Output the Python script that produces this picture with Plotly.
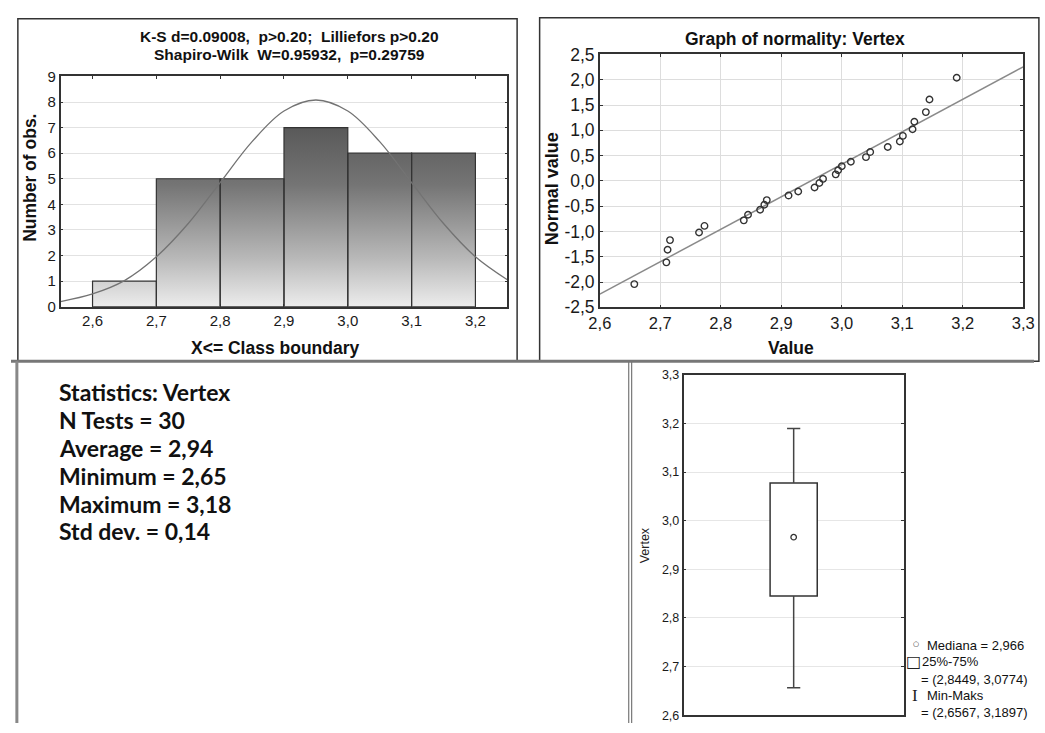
import plotly.graph_objects as go

W, H = 1045, 733

# ---------------- Histogram data ----------------
bin_edges = [2.6, 2.7, 2.8, 2.9, 3.0, 3.1, 3.2]
counts = [1, 5, 5, 7, 6, 6]
curve_x = [2.55, 2.60, 2.65, 2.70, 2.75, 2.80, 2.85, 2.90, 2.95, 3.00, 3.05, 3.10, 3.15, 3.20, 3.25]
curve_y = [0.20, 0.50, 1.02, 1.95, 3.25, 4.85, 6.45, 7.65, 8.08, 7.65, 6.45, 4.85, 3.25, 1.95, 1.05]
hist_xticks = [2.6, 2.7, 2.8, 2.9, 3.0, 3.1, 3.2]
hist_xlabels = ["2,6", "2,7", "2,8", "2,9", "3,0", "3,1", "3,2"]
hist_yticks = [0, 1, 2, 3, 4, 5, 6, 7, 8, 9]
hist_title = ["K-S d=0.09008,  p>0.20;  Lilliefors p>0.20",
              "Shapiro-Wilk  W=0.95932,  p=0.29759"]

# ---------------- Normal probability plot data ----------------
obs_values = [2.657, 2.710, 2.712, 2.716, 2.764, 2.773, 2.838, 2.845, 2.865, 2.872,
              2.876, 2.912, 2.928, 2.955, 2.963, 2.969, 2.990, 2.994, 3.000, 3.015,
              3.040, 3.047, 3.076, 3.096, 3.101, 3.117, 3.120, 3.139, 3.145, 3.190]
normal_values = [-2.04, -1.61, -1.36, -1.17, -1.02, -0.89, -0.78, -0.67, -0.57, -0.47,
                 -0.38, -0.29, -0.21, -0.13, -0.04, 0.04, 0.13, 0.21, 0.29, 0.38,
                 0.47, 0.57, 0.67, 0.78, 0.89, 1.02, 1.17, 1.36, 1.61, 2.04]
fit_x = [2.6, 3.3]
fit_y = [-2.24, 2.255]
norm_xticks = [2.6, 2.7, 2.8, 2.9, 3.0, 3.1, 3.2, 3.3]
norm_xlabels = ["2,6", "2,7", "2,8", "2,9", "3,0", "3,1", "3,2", "3,3"]
norm_yticks = [-2.5, -2.0, -1.5, -1.0, -0.5, 0.0, 0.5, 1.0, 1.5, 2.0, 2.5]
norm_ylabels = ["-2,5", "-2,0", "-1,5", "-1,0", "-0,5", "0,0", "0,5", "1,0", "1,5", "2,0", "2,5"]

# ---------------- Box plot data ----------------
box_median = 2.966
box_q1 = 2.8449
box_q3 = 3.0774
box_min = 2.6567
box_max = 3.1897
box_yticks = [2.6, 2.7, 2.8, 2.9, 3.0, 3.1, 3.2, 3.3]
box_ylabels = ["2,6", "2,7", "2,8", "2,9", "3,0", "3,1", "3,2", "3,3"]
box_legend = ["Mediana = 2,966", "25%-75%", "= (2,8449, 3,0774)", "Min-Maks", "= (2,6567, 3,1897)"]

# ---------------- Statistics text ----------------
stats_lines = ["Statistics: Vertex", "N Tests = 30", "Average = 2,94",
               "Minimum = 2,65", "Maximum = 3,18", "Std dev. = 0,14"]


def fx(px):
    return px / W


def fy(py):
    return 1 - py / H


fig = go.Figure()

# Histogram bars (gradient-filled rectangles)
bx, by = [], []
for i, c in enumerate(counts):
    l, r = bin_edges[i], bin_edges[i + 1]
    bx += [l, l, r, r, l, None]
    by += [0, c, c, 0, 0, None]
fig.add_trace(go.Scatter(
    x=bx, y=by, mode="lines", fill="toself",
    line=dict(color="#333333", width=1.2),
    fillgradient=dict(type="vertical", start=0, stop=7,
                      colorscale=[[0, "#f3f3f3"], [0.3, "#b8b8b8"], [0.7, "#747474"], [1, "#5a5a5a"]]),
    xaxis="x", yaxis="y", showlegend=False, hoverinfo="skip"))
fig.add_trace(go.Scatter(
    x=curve_x, y=curve_y, mode="lines", line=dict(color="#737373", width=1.3, shape="spline"),
    xaxis="x", yaxis="y", showlegend=False))

# Normal probability plot
fig.add_trace(go.Scatter(
    x=fit_x, y=fit_y, mode="lines", line=dict(color="#8a8a8a", width=1.5),
    xaxis="x2", yaxis="y2", showlegend=False))
fig.add_trace(go.Scatter(
    x=obs_values, y=normal_values, mode="markers",
    marker=dict(symbol="circle-open", size=6.5, color="#333333", line=dict(width=1.4)),
    xaxis="x2", yaxis="y2", showlegend=False))

# Box plot
half_w = 0.107
cap_w = 0.03
fig.add_trace(go.Bar(
    x=[0], y=[box_q3 - box_q1], base=[box_q1], width=[2 * half_w],
    marker=dict(color="white", line=dict(color="#333333", width=1.5)),
    xaxis="x3", yaxis="y3", showlegend=False))
fig.add_trace(go.Scatter(
    x=[0, 0, None, 0, 0, None, -cap_w, cap_w, None, -cap_w, cap_w],
    y=[box_q3, box_max, None, box_q1, box_min, None, box_max, box_max, None, box_min, box_min],
    mode="lines", line=dict(color="#444444", width=1.5),
    xaxis="x3", yaxis="y3", showlegend=False))
fig.add_trace(go.Scatter(
    x=[0], y=[box_median], mode="markers",
    marker=dict(symbol="circle-open", size=5.5, color="#333333", line=dict(width=1.3)),
    xaxis="x3", yaxis="y3", showlegend=False))


def axis_common(size):
    return dict(showline=True, linecolor="#333333", linewidth=1.5, mirror="allticks",
                ticks="inside", ticklen=3, tickcolor="#333333", zeroline=False,
                ticklabeloverflow="allow",
                tickfont=dict(family="Liberation Sans", size=size, color="#1a1a1a"))


fig.update_layout(
    width=W, height=H, margin=dict(l=0, r=0, t=0, b=0),
    paper_bgcolor="white", plot_bgcolor="white", showlegend=False,
    xaxis=dict(domain=[fx(50.7), fx(507)], range=[2.55, 3.25], tickvals=hist_xticks,
               ticktext=hist_xlabels, showgrid=False, anchor="y", **axis_common(15)),
    yaxis=dict(domain=[fy(305), fy(68.3)], range=[0, 9], tickvals=hist_yticks,
               showgrid=True, gridcolor="#e2e2e2", anchor="x", **axis_common(15)),
    xaxis2=dict(domain=[fx(601.5), fx(1034)], range=[2.6, 3.3], tickvals=norm_xticks,
                ticktext=norm_xlabels, showgrid=True, gridcolor="#dddddd", anchor="y2", **axis_common(16.5)),
    yaxis2=dict(domain=[fy(305.7), fy(45.7)], range=[-2.5, 2.5], tickvals=norm_yticks,
                ticktext=norm_ylabels, showgrid=True, gridcolor="#dddddd", anchor="x2", **axis_common(17.5)),
    xaxis3=dict(domain=[fx(687), fx(912)], range=[-0.5, 0.5], showticklabels=False,
                showgrid=False, anchor="y3", showline=True, linecolor="#333333", linewidth=1.5,
                mirror=True, ticks="", zeroline=False),
    yaxis3=dict(domain=[fy(725), fy(375)], range=[2.6, 3.3], tickvals=box_yticks,
                ticktext=box_ylabels, showgrid=True, gridcolor="#e6e6e6", anchor="x3",
                **axis_common(12.5)),
)

ann = []
bold = dict(family="Liberation Sans", color="#111111")
ann.append(dict(x=fx(284), y=fy(27), text="<b>" + hist_title[0] + "</b>", font=dict(size=15.5, **bold)))
ann.append(dict(x=fx(284), y=fy(46), text="<b>" + hist_title[1] + "</b>", font=dict(size=15.5, **bold)))
ann.append(dict(x=fx(20), y=fy(173), text="<b>Number of obs.</b>", textangle=-90, font=dict(size=17.5, **bold)))
ann.append(dict(x=fx(270), y=fy(347), text="<b>X<= Class boundary</b>", font=dict(size=17.5, **bold)))
ann.append(dict(x=fx(801), y=fy(30), text="<b>Graph of normality: Vertex</b>", font=dict(size=17.5, **bold)))
ann.append(dict(x=fx(553), y=fy(184), text="<b>Normal value</b>", textangle=-90, font=dict(size=18, **bold)))
ann.append(dict(x=fx(797), y=fy(347), text="<b>Value</b>", font=dict(size=17.5, **bold)))
ann.append(dict(x=fx(648), y=fy(550), text="Vertex", textangle=-90,
                font=dict(family="Liberation Sans", size=12.5, color="#222222")))

# box legend
leg_font = dict(family="Liberation Sans", size=13, color="#111111")
leg_y = [653, 670, 688, 705, 722]
leg_x = [934, 929, 928, 934, 928]
for t, xx, yy in zip(box_legend, leg_x, leg_y):
    ann.append(dict(x=fx(xx), y=fy(yy), text=t, xanchor="left", font=leg_font))
ann.append(dict(x=fx(924), y=fy(652), text="○", font=dict(family="DejaVu Sans", size=7, color="#222")))
ann.append(dict(x=fx(922), y=fy(670), text="□", font=dict(family="DejaVu Sans", size=16, color="#222")))
ann.append(dict(x=fx(923), y=fy(705), text="I", font=dict(family="Liberation Serif", size=17, color="#222")))

# statistics text
for i, t in enumerate(stats_lines):
    ann.append(dict(x=fx(47), y=fy(393 + 28.6 * i), text="<b>" + t + "</b>", xanchor="left",
                    font=dict(family="Lato", size=23, color="#111111")))

for a in ann:
    a.setdefault("xref", "paper")
    a.setdefault("yref", "paper")
    a.setdefault("showarrow", False)
    a.setdefault("xanchor", "center")
    a.setdefault("yanchor", "middle")
fig.update_layout(annotations=ann)

shapes = [
    dict(type="rect", x0=fx(7), x1=fx(517), y0=fy(9), y1=fy(361), line=dict(color="#333333", width=1.5)),
    dict(type="rect", x0=fx(540), x1=fx(1050), y0=fy(8), y1=fy(361), line=dict(color="#333333", width=1.5)),
    dict(type="line", x0=0, x1=1, y0=fy(361), y1=fy(361), line=dict(color="#777777", width=3)),
    dict(type="line", x0=fx(6), x1=fx(6), y0=fy(361), y1=0, line=dict(color="#888888", width=3)),
    dict(type="line", x0=fx(631), x1=fx(631), y0=fy(361), y1=0, line=dict(color="#777777", width=1.2)),
    dict(type="line", x0=fx(634), x1=fx(634), y0=fy(361), y1=0, line=dict(color="#777777", width=1.2)),
]
for s in shapes:
    s["xref"] = "paper"
    s["yref"] = "paper"
fig.update_layout(shapes=shapes)

fig.write_html("out.html", config={"displayModeBar": False},
               post_script="document.body.style.margin='0';document.body.style.overflow='hidden';")
